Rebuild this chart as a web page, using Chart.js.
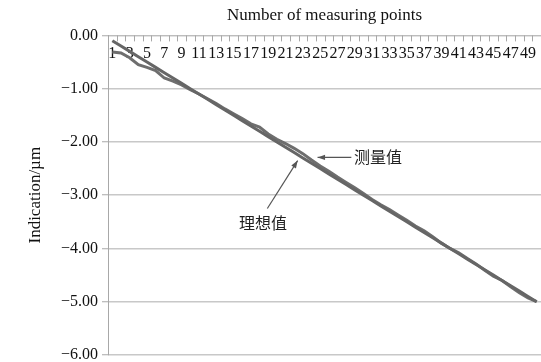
<!DOCTYPE html>
<html>
<head>
<meta charset="utf-8">
<script src="https://cdn.jsdelivr.net/npm/chart.js@4.4.1/dist/chart.umd.min.js"></script>
<style>
  html, body { margin: 0; padding: 0; background: #fff; }
  #wrap { width: 541px; height: 362px; }
</style>
</head>
<body>
<div id="wrap"><canvas id="chart"></canvas></div>
<script>
// measuring points 1..50
let points = [1, 2, 3, 4, 5, 6, 7, 8, 9, 10, 11, 12, 13, 14, 15, 16, 17, 18, 19, 20,
  21, 22, 23, 24, 25, 26, 27, 28, 29, 30, 31, 32, 33, 34, 35, 36, 37, 38, 39, 40,
  41, 42, 43, 44, 45, 46, 47, 48, 49, 50];

// 理想值 (ideal)
let ideal = [-0.1, -0.2, -0.3, -0.4, -0.5, -0.6, -0.7, -0.8, -0.9, -1.0,
  -1.1, -1.2, -1.3, -1.4, -1.5, -1.6, -1.7, -1.8, -1.9, -2.0,
  -2.1, -2.2, -2.3, -2.4, -2.5, -2.6, -2.7, -2.8, -2.9, -3.0,
  -3.1, -3.2, -3.3, -3.4, -3.5, -3.6, -3.7, -3.8, -3.9, -4.0,
  -4.1, -4.2, -4.3, -4.4, -4.5, -4.6, -4.7, -4.8, -4.9, -5.0];

// 测量值 (measured)
let measured = [-0.31, -0.33, -0.42, -0.55, -0.60, -0.66, -0.80, -0.86, -0.93, -1.02,
  -1.10, -1.19, -1.28, -1.38, -1.47, -1.56, -1.66, -1.72, -1.85, -1.95,
  -2.03, -2.12, -2.22, -2.34, -2.45, -2.55, -2.66, -2.76, -2.86, -2.97,
  -3.08, -3.18, -3.27, -3.37, -3.47, -3.58, -3.67, -3.78, -3.90, -4.00,
  -4.08, -4.19, -4.29, -4.41, -4.52, -4.60, -4.72, -4.83, -4.93, -5.00];

let yMin = -6;
let yMax = 0;
let yStep = 1;

const serif = '"Liberation Serif", "DejaVu Serif", serif';

// category labels + inside tick marks along the top axis
const topAxis = {
  id: "topAxis",
  beforeDatasetsDraw(chart) {
    let x = chart.scales.x;
    let ctx = chart.ctx;
    let top = chart.chartArea.top;
    ctx.save();
    ctx.strokeStyle = "#a8a8a8";
    ctx.lineWidth = 1;
    for (let i = 0; i <= points.length; i++) {
      let px = Math.round(x.getPixelForValue(i - 0.5)) + 0.5;
      ctx.beginPath();
      ctx.moveTo(px, top);
      ctx.lineTo(px, top + 6);
      ctx.stroke();
    }
    ctx.fillStyle = "#111";
    ctx.font = "16px " + serif;
    ctx.textAlign = "center";
    ctx.textBaseline = "middle";
    points.forEach((p, i) => {
      if (i % 2 == 0) ctx.fillText(String(p), x.getPixelForValue(i), top + 18);
    });
    ctx.restore();
  },
};

// arrows with the series names
const notes = {
  id: "notes",
  afterDatasetsDraw(chart) {
    let x = chart.scales.x;
    let y = chart.scales.y;
    let ctx = chart.ctx;

    function arrow(x1, y1, x2, y2) {
      let a = Math.atan2(y2 - y1, x2 - x1);
      ctx.beginPath();
      ctx.moveTo(x1, y1);
      ctx.lineTo(x2, y2);
      ctx.stroke();
      ctx.beginPath();
      ctx.moveTo(x2, y2);
      ctx.lineTo(x2 - 8 * Math.cos(a - 0.35), y2 - 8 * Math.sin(a - 0.35));
      ctx.lineTo(x2 - 8 * Math.cos(a + 0.35), y2 - 8 * Math.sin(a + 0.35));
      ctx.closePath();
      ctx.fill();
    }

    ctx.save();
    ctx.strokeStyle = "#555";
    ctx.fillStyle = "#555";
    ctx.lineWidth = 1.2;
    arrow(x.getPixelForValue(27.6), y.getPixelForValue(-2.29),
          x.getPixelForValue(23.7), y.getPixelForValue(-2.29));
    arrow(x.getPixelForValue(17.9), y.getPixelForValue(-3.25),
          x.getPixelForValue(21.4), y.getPixelForValue(-2.35));

    ctx.fillStyle = "#222";
    ctx.font = '16px "Noto Sans CJK SC"';
    ctx.textBaseline = "middle";
    ctx.textAlign = "left";
    ctx.fillText("测量值", x.getPixelForValue(27.9), y.getPixelForValue(-2.29));
    ctx.textAlign = "center";
    ctx.fillText("理想值", x.getPixelForValue(17.4), y.getPixelForValue(-3.52));
    ctx.restore();
  },
};

let ctx = document.querySelector("#chart").getContext("2d");
let chart = new Chart(ctx, {
  type: "line",
  data: {
    labels: points,
    datasets: [
      {
        label: "理想值",
        data: ideal,
        borderColor: "#666666",
        borderWidth: 3,
        pointRadius: 0,
        tension: 0,
      },
      {
        label: "测量值",
        data: measured,
        borderColor: "#6e6e6e",
        borderWidth: 3,
        pointRadius: 0,
        tension: 0,
      },
    ],
  },
  options: {
    responsive: true,
    maintainAspectRatio: false,
    animation: false,
    layout: { padding: { left: 0, right: 0, top: 0, bottom: 0 } },
    plugins: {
      legend: { display: false },
      tooltip: { enabled: false },
    },
    scales: {
      x: {
        type: "category",
        position: "top",
        offset: true,
        grid: { display: false, drawTicks: false },
        border: { display: true, color: "#bdbdbd" },
        ticks: { display: false },
        title: {
          display: true,
          text: "Number of measuring points",
          color: "#111",
          font: { family: serif, size: 17 },
          padding: { top: 5, bottom: 10 },
        },
      },
      y: {
        min: yMin,
        max: yMax,
        afterFit(s) {
          s.width = 108;
          s.paddingBottom = 7;
        },
        ticks: {
          stepSize: yStep,
          color: "#111",
          padding: 4,
          font: { family: serif, size: 16 },
          callback: (v) => v.toFixed(2).replace("-", "\u2212"),
        },
        grid: {
          color: "#c8c8c8",
          lineWidth: 1.5,
          tickLength: 6,
          tickColor: "#a8a8a8",
          tickWidth: 1,
        },
        border: { display: true, color: "#a8a8a8" },
        title: {
          display: true,
          text: "Indication/\u00b5m",
          color: "#111",
          font: { family: serif, size: 17 },
          padding: { top: 25, bottom: 0 },
        },
      },
    },
  },
  plugins: [topAxis, notes],
});
</script>
</body>
</html>
